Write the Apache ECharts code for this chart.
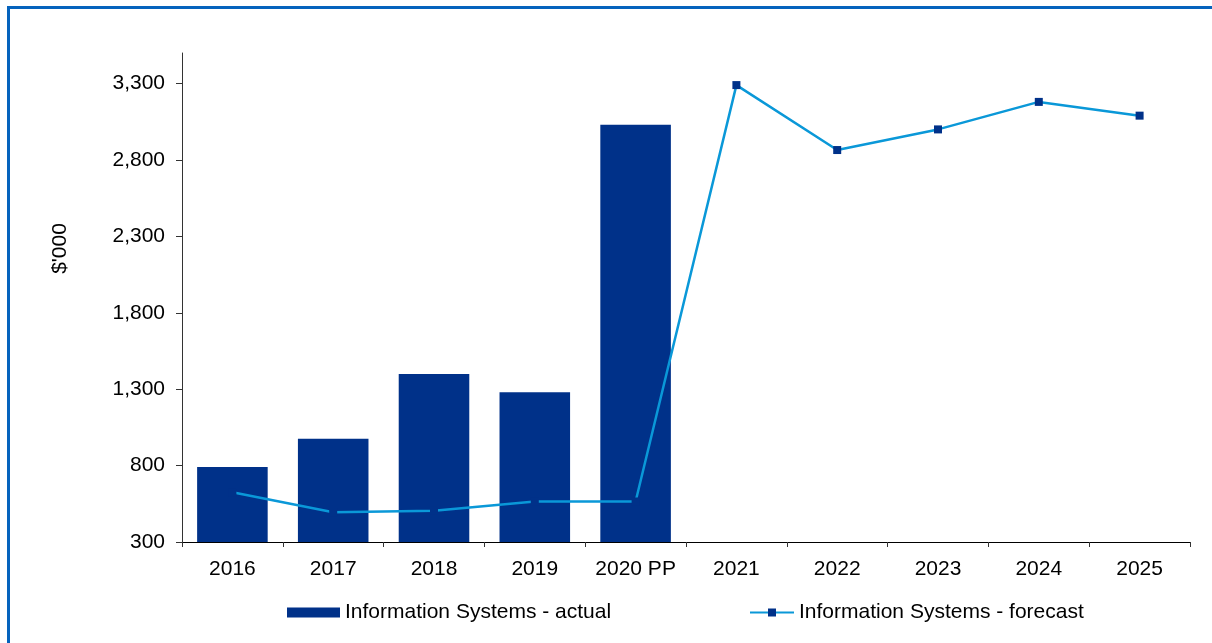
<!DOCTYPE html>
<html>
<head>
<meta charset="utf-8">
<script src="https://cdn.jsdelivr.net/npm/echarts@6/dist/echarts.min.js"></script>
<style>
  html, body { margin: 0; padding: 0; background: #fff; }
  #frame { position: absolute; left: 7px; top: 6px; width: 1400px; height: 900px;
           border: 3px solid #0563bd; box-sizing: border-box; }
  #chart { position: absolute; left: 0; top: 0; width: 1212px; height: 643px; }
</style>
</head>
<body>
<div id="frame"></div>
<div id="chart"></div>
<script>
// Information Systems spend, $'000
const categories = ['2016', '2017', '2018', '2019', '2020 PP', '2021', '2022', '2023', '2024', '2025'];
const actualValues = [790, 975, 1400, 1280, 3030, null, null, null, null, null];
const forecastValues = [625, 495, 505, 565, 565, 3290, 2865, 3000, 3180, 3090];
const yTicks = [300, 800, 1300, 1800, 2300, 2800, 3300];

const barColor = '#003189';
const lineColor = '#0a98d8';
const font = "'Liberation Sans', Arial, sans-serif";
const nActual = 5;

// Points over the actual bars take the bar colour, so they read as breaks in the line
const lineData = forecastValues.map((v, i) => i < nActual
  ? { value: v, itemStyle: { color: barColor } }
  : v);

const chart = echarts.init(document.getElementById('chart'), null, { renderer: 'canvas' });
chart.setOption({
  animation: false,
  textStyle: { fontFamily: font, color: '#000' },
  grid: { left: 182, right: 22, top: 53, bottom: 101, containLabel: false },
  legend: [
    {
      data: [{ name: 'Information Systems - actual', icon: 'rect' }],
      left: 282, top: 597,
      itemWidth: 53, itemHeight: 10,
      selectedMode: false,
      textStyle: { fontFamily: font, fontSize: 21, color: '#000' }
    },
    {
      data: ['Information Systems - forecast'],
      left: 744, top: 597,
      itemWidth: 44, itemHeight: 10,
      selectedMode: false,
      textStyle: { fontFamily: font, fontSize: 21, color: '#000' }
    }
  ],
  xAxis: {
    type: 'category',
    data: categories,
    boundaryGap: true,
    axisLine: { lineStyle: { color: '#000', width: 1 } },
    axisTick: { show: true, length: 5, lineStyle: { color: '#333' } },
    axisLabel: { interval: 0, fontFamily: font, fontSize: 21, color: '#000', margin: 17 },
    splitLine: { show: false }
  },
  yAxis: {
    type: 'value',
    min: 300,
    max: 3500,
    name: "$'000",
    nameLocation: 'middle',
    nameGap: 111,
    nameRotate: 90,
    nameTextStyle: { fontFamily: font, fontSize: 21, color: '#000', padding: [0, 0, 0, 98] },
    axisLine: { show: true, lineStyle: { color: '#333', width: 1 } },
    axisTick: { show: true, length: 6, customValues: yTicks, lineStyle: { color: '#333' } },
    axisLabel: {
      customValues: yTicks,
      fontFamily: font, fontSize: 21, color: '#000', margin: 17,
      formatter: v => Number(v).toLocaleString('en-US')
    },
    splitLine: { show: false }
  },
  series: [
    {
      name: 'Information Systems - actual',
      type: 'bar',
      data: actualValues,
      barWidth: '70%',
      itemStyle: { color: barColor }
    },
    {
      name: 'Information Systems - forecast',
      type: 'line',
      data: lineData,
      symbol: 'rect',
      symbolSize: 8,
      showSymbol: true,
      showAllSymbol: true,
      lineStyle: { color: lineColor, width: 2.5 },
      itemStyle: { color: barColor },
      z: 3
    }
  ]
});
</script>
</body>
</html>
